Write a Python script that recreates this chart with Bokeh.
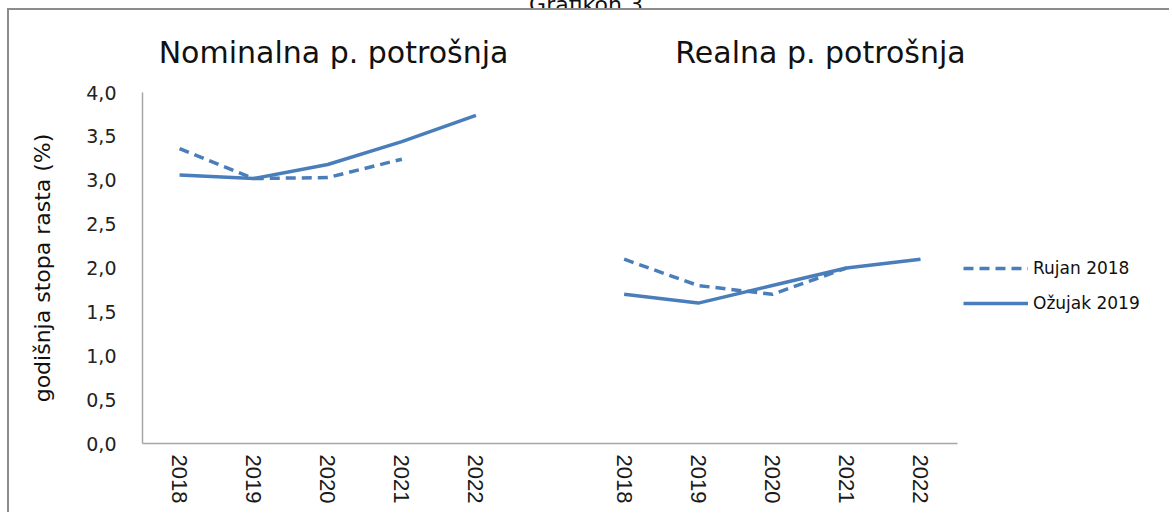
from bokeh.plotting import figure
from bokeh.models import Range1d, FixedTicker, Legend, LegendItem, Div, LinearAxis
from bokeh.layouts import column
from bokeh.embed import file_html
from bokeh.resources import INLINE

# ---- data ----
chart_title = "Grafikon 3"
years = ["2018", "2019", "2020", "2021", "2022"]
panel_titles = ["Nominalna p. potrošnja", "Realna p. potrošnja"]
series_names = ["Rujan 2018", "Ožujak 2019"]
nominal_rujan = [3.36, 3.02, 3.03, 3.24]
nominal_ozujak = [3.06, 3.02, 3.18, 3.44, 3.74]
real_rujan = [2.1, 1.8, 1.7, 2.0]
real_ozujak = [1.7, 1.6, 1.8, 2.0, 2.1]
y_ticks = [0.0, 0.5, 1.0, 1.5, 2.0, 2.5, 3.0, 3.5, 4.0]
y_title = "godišnja stopa rasta (%)"

# ---- layout ----
BLUE = "#4a7ebb"
left_x = list(range(len(years)))
right_x = [len(years) + 1 + i for i in range(len(years))]
title_x = [2.078, 8.65]

p = figure(width=1162, height=504, output_backend="svg", toolbar_location=None,
           x_range=Range1d(-0.5, 13.387), y_range=Range1d(0, 4),
           min_border_left=133, min_border_top=82, min_border_bottom=71,
           min_border_right=0)
p.styles = {"margin-left": "7px",
            "border-left": "2px solid #8c8c8c", "border-top": "2px solid #8c8c8c"}
p.outline_line_color = None
p.xgrid.grid_line_color = None
p.ygrid.grid_line_color = None
p.background_fill_color = "white"
p.border_fill_color = "white"

# lines
r1 = p.line(left_x[:len(nominal_rujan)], nominal_rujan, line_color=BLUE, line_width=3.5,
            line_dash="10 6", line_join="round")
p.line(right_x[:len(real_rujan)], real_rujan, line_color=BLUE, line_width=3.5,
       line_dash="10 6", line_join="round")
r2 = p.line(left_x, nominal_ozujak, line_color=BLUE, line_width=3.5, line_join="round")
p.line(right_x, real_ozujak, line_color=BLUE, line_width=3.5, line_join="round")

# x axis
xa = p.xaxis[0]
xa.ticker = FixedTicker(ticks=left_x + right_x)
xa.major_label_overrides = {x: y for x, y in zip(left_x + right_x, years + years)}
xa.major_label_orientation = "vertical"
xa.bounds = (-0.5, 10.5)
xa.axis_line_color = "#a6a6a6"
xa.axis_line_width = 1.5
xa.major_tick_line_color = None
xa.minor_tick_line_color = None
xa.major_label_standoff = 5
xa.major_label_text_font = "Liberation Sans"
xa.major_label_text_font_size = "22px"
xa.major_label_text_color = "#1a1a1a"

# panel titles as an axis above the plot
ta = LinearAxis(ticker=FixedTicker(ticks=title_x),
                major_label_overrides={x: t for x, t in zip(title_x, panel_titles)},
                axis_line_color=None, major_tick_line_color=None,
                minor_tick_line_color=None, major_label_standoff=17,
                major_label_text_font="DejaVu Sans", major_label_text_font_size="30px",
                major_label_text_color="#111111")
p.add_layout(ta, "above")

# y axis
ya = p.yaxis[0]
ya.ticker = FixedTicker(ticks=y_ticks)
ya.major_label_overrides = {t: f"{t:.1f}".replace(".", ",") for t in y_ticks}
ya.axis_line_color = "#a6a6a6"
ya.axis_line_width = 1.5
ya.major_tick_line_color = None
ya.minor_tick_line_color = None
ya.major_label_standoff = 20
ya.major_label_text_font = "DejaVu Sans"
ya.major_label_text_font_size = "19px"
ya.major_label_text_color = "#222222"
ya.axis_label = y_title
ya.axis_label_standoff = 28
ya.axis_label_text_font = "DejaVu Sans"
ya.axis_label_text_font_size = "22px"
ya.axis_label_text_font_style = "normal"
ya.axis_label_text_color = "#111111"

# legend
legend = Legend(items=[LegendItem(label=series_names[0], renderers=[r1]),
                       LegendItem(label=series_names[1], renderers=[r2])],
                location=(821, 130), orientation="vertical",
                glyph_width=65, glyph_height=20, label_height=20, spacing=15,
                label_standoff=5, padding=0, margin=0,
                border_line_color=None, background_fill_alpha=0,
                label_text_font="DejaVu Sans", label_text_font_size="17px",
                label_text_color="#111111")
p.add_layout(legend)

head = Div(text=('<div style="margin-top:-17px;text-align:center;width:1172px;'
                 'font-family:\'DejaVu Sans\';font-size:22px;line-height:24px;color:#111">'
                 + chart_title + '</div>'),
           width=1172, height=8, margin=0, styles={"overflow": "hidden"})

layout = column(head, p, spacing=0)
open("out.html", "w").write(file_html(layout, INLINE))
